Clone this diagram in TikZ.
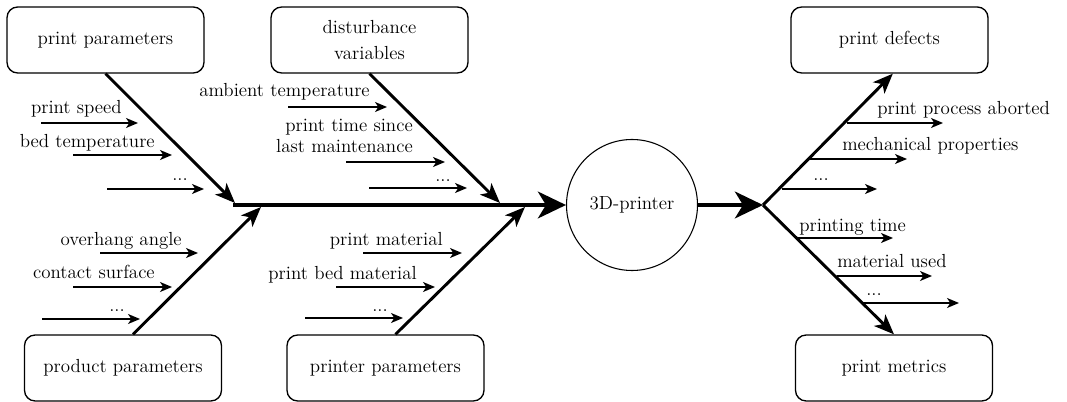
\documentclass[tikz,border=0pt]{standalone}
\usetikzlibrary{arrows.meta}
\begin{document}
\begin{tikzpicture}[x=0.75pt,y=-0.75pt,
  txt/.style={font=\fontsize{14.2}{20}\selectfont},
  box/.style={txt, draw, line width=1pt, rounded corners=8pt, minimum width=147.75pt, minimum height=49.5pt, align=center, inner sep=0pt},
  lab/.style={txt, inner sep=0pt},
  sub/.style={line width=1.1pt, -{Stealth[length=9pt,width=7.5pt,inset=2.5pt]}},
  branch/.style={line width=2.2pt, -{Stealth[length=15pt,width=12pt,inset=4pt]}},
  spine/.style={line width=3.2pt, -{Stealth[length=21pt,width=20pt,inset=6pt]}}]
\useasboundingbox (0,0) rectangle (1067,402);

% boxes
\node[box] (pp) at (105.5,40) {print parameters};
\node[box] (dv) at (369.5,40) {disturbance\\variables};
\node[box] (prod) at (123,368) {product parameters};
\node[box] (prn) at (385.5,368) {printer parameters};
\node[box] (pd) at (889.5,40) {print defects};
\node[box] (pm) at (894,368) {print metrics};
\node[txt, draw, circle, line width=0.8pt, minimum size=98.25pt, inner sep=0pt] (pr) at (632,205) {3D-printer};

% junctions
\coordinate (s0) at (233,205);
\coordinate (t1) at (235,203);
\coordinate (t2) at (261,207);
\coordinate (t3) at (500,203);
\coordinate (t4) at (525,207);
\coordinate (j) at (763,205);

% spine and branches
\draw[spine] (s0) -- (pr.west);
\draw[branch] (pp.south) -- (t1);
\draw[branch] ([xshift=7.5pt]prod.north) -- (t2);
\draw[branch] (dv.south) -- (t3);
\draw[branch] ([xshift=7.5pt]prn.north) -- (t4);
\draw[spine] (pr.east) -- (j);
\draw[branch] (j) -- ([xshift=2.5pt]pd.south);
\draw[branch] (j) -- (pm.north);

% sub arrows
\foreach \n/\xa/\xb/\y in {1/41/138/123, 2/73/172/155, 3/107/204/189,
  4/100/198/253, 5/73/172/287, 6/42/140/319,
  7/288/387/107, 8/346/445/162, 9/369/467/188,
  10/363/462/253, 11/336/435/287, 12/305/403/318,
  13/847/943/123, 14/810/907/159, 15/782/877/189,
  16/798/893/238, 17/837/932/276, 18/863/959/303}{
  \coordinate (s\n) at (\xa,\y);
  \coordinate (e\n) at (\xb,\y);
  \draw[sub] (s\n) -- (e\n);
}

% labels
\node[lab, anchor=base east] (l1) at (122,114) {print speed};
\node[lab, anchor=base east] (l2) at (155,148) {bed temperature};
\node[lab, anchor=base west] (l3) at (172,181) {...};
\node[lab, anchor=base east] (l4) at (182,246) {overhang angle};
\node[lab, anchor=base east] (l5) at (155,279) {contact surface};
\node[lab, anchor=base west] (l6) at (109,312) {...};
\node[lab, anchor=base east] (l7) at (370,97) {ambient temperature};
\node[lab, anchor=base east, align=right, font=\fontsize{14.2}{16}\selectfont] (l8) at (413,153) {print time since\\last maintenance};
\node[lab, anchor=base west] (l9) at (435,182) {...};
\node[lab, anchor=base east] (l10) at (443,246) {print material};
\node[lab, anchor=base east] (l11) at (417,280) {print bed material};
\node[lab, anchor=base west] (l12) at (372,312) {...};
\node[lab, anchor=base west] (l13) at (877,115) {print process aborted};
\node[lab, anchor=base west] (l14) at (842,151) {mechanical properties};
\node[lab, anchor=base west] (l15) at (813,181) {...};
\node[lab, anchor=base west] (l16) at (799,232) {printing time};
\node[lab, anchor=base west] (l17) at (837,268) {material used};
\node[lab, anchor=base west] (l18) at (866,296) {...};
\end{tikzpicture}
\end{document}
